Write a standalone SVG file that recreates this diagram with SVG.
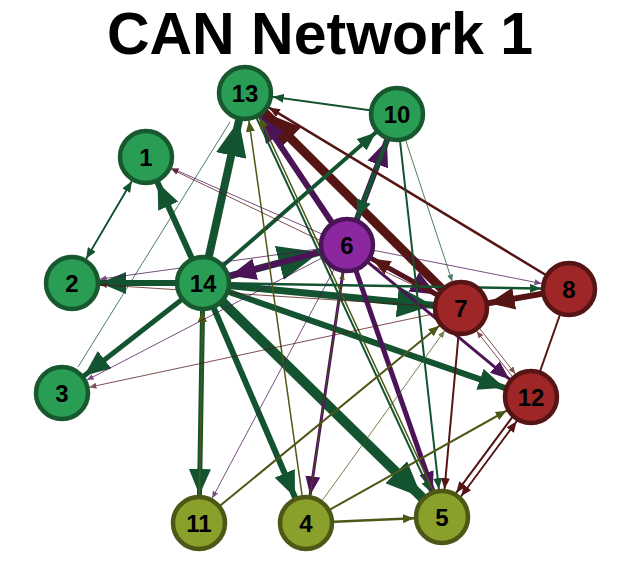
<svg xmlns="http://www.w3.org/2000/svg" width="636" height="582" viewBox="0 0 636 582">
<style>
.t{font-family:"Liberation Sans",Arial,sans-serif;font-weight:bold;fill:#000}
.title{font-size:59px;text-anchor:middle}
.lbl{font-size:24px;text-anchor:middle}
.n circle{stroke-width:4.5}
.gn circle{fill:#2a9d55;stroke:#17582f}
.pn circle{fill:#8b28a0;stroke:#4b1456}
.rn circle{fill:#9e2626;stroke:#561515}
.on circle{fill:#89a02a;stroke:#4e5816}
#edges line{fill:none}
.g{stroke:#135330}
.p{stroke:#4b1456}
.r{stroke:#561515}
.o{stroke:#4e5816}
.thin{stroke-width:1;opacity:.75}
.mg{fill:#135330}.mp{fill:#4b1456}.mr{fill:#561515}.mo{fill:#4e5816}
</style>
<defs>
<marker id="g-xs" markerUnits="userSpaceOnUse" markerWidth="7" markerHeight="6" refX="35" refY="3" orient="auto"><path class="mg" d="M0,0L7,3L0,6z"/></marker>
<marker id="g-s" markerUnits="userSpaceOnUse" markerWidth="11" markerHeight="9" refX="39" refY="4.5" orient="auto"><path class="mg" d="M0,0L11,4.5L0,9z"/></marker>
<marker id="g-m" markerUnits="userSpaceOnUse" markerWidth="19" markerHeight="15" refX="47" refY="7.5" orient="auto"><path class="mg" d="M0,0L19,7.5L0,15z"/></marker>
<marker id="g-l" markerUnits="userSpaceOnUse" markerWidth="26" markerHeight="22" refX="54" refY="11" orient="auto"><path class="mg" d="M0,0L26,11L0,22z"/></marker>
<marker id="g-xl" markerUnits="userSpaceOnUse" markerWidth="36" markerHeight="31" refX="64" refY="15.5" orient="auto"><path class="mg" d="M0,0L36,15.5L0,31z"/></marker>
<marker id="g-xxl" markerUnits="userSpaceOnUse" markerWidth="42" markerHeight="35" refX="70" refY="17.5" orient="auto"><path class="mg" d="M0,0L42,17.5L0,35z"/></marker>
<marker id="p-xs" markerUnits="userSpaceOnUse" markerWidth="7" markerHeight="6" refX="35" refY="3" orient="auto"><path class="mp" d="M0,0L7,3L0,6z"/></marker>
<marker id="p-m" markerUnits="userSpaceOnUse" markerWidth="19" markerHeight="15" refX="47" refY="7.5" orient="auto"><path class="mp" d="M0,0L19,7.5L0,15z"/></marker>
<marker id="p-l" markerUnits="userSpaceOnUse" markerWidth="26" markerHeight="22" refX="54" refY="11" orient="auto"><path class="mp" d="M0,0L26,11L0,22z"/></marker>
<marker id="r-xs" markerUnits="userSpaceOnUse" markerWidth="7" markerHeight="6" refX="35" refY="3" orient="auto"><path class="mr" d="M0,0L7,3L0,6z"/></marker>
<marker id="r-s" markerUnits="userSpaceOnUse" markerWidth="11" markerHeight="9" refX="39" refY="4.5" orient="auto"><path class="mr" d="M0,0L11,4.5L0,9z"/></marker>
<marker id="r-m" markerUnits="userSpaceOnUse" markerWidth="19" markerHeight="15" refX="47" refY="7.5" orient="auto"><path class="mr" d="M0,0L19,7.5L0,15z"/></marker>
<marker id="r-l" markerUnits="userSpaceOnUse" markerWidth="26" markerHeight="22" refX="54" refY="11" orient="auto"><path class="mr" d="M0,0L26,11L0,22z"/></marker>
<marker id="r-xl" markerUnits="userSpaceOnUse" markerWidth="36" markerHeight="31" refX="64" refY="15.5" orient="auto"><path class="mr" d="M0,0L36,15.5L0,31z"/></marker>
<marker id="o-xs" markerUnits="userSpaceOnUse" markerWidth="7" markerHeight="6" refX="35" refY="3" orient="auto"><path class="mo" d="M0,0L7,3L0,6z"/></marker>
<marker id="o-s" markerUnits="userSpaceOnUse" markerWidth="11" markerHeight="9" refX="39" refY="4.5" orient="auto"><path class="mo" d="M0,0L11,4.5L0,9z"/></marker>
</defs>

<text class="t title" x="320" y="54">CAN Network 1</text>

<g id="edges">
<line class="g" x1="203" y1="283" x2="442" y2="517" stroke-width="10" marker-end="url(#g-xl)"/>
<line class="r" x1="461" y1="308" x2="245" y2="93" stroke-width="9" marker-end="url(#r-xl)"/>
<line class="g" x1="203" y1="283" x2="245" y2="93" stroke-width="8" marker-end="url(#g-xl)"/>
<line class="g" x1="203" y1="283" x2="347" y2="245" stroke-width="7" marker-end="url(#g-xxl)"/>
<line class="g" x1="203" y1="283" x2="461" y2="308" stroke-width="7" marker-end="url(#g-xl)"/>
<line class="g" x1="203" y1="283" x2="146" y2="157" stroke-width="6" marker-end="url(#g-l)"/>
<line class="g" x1="203" y1="283" x2="72" y2="283" stroke-width="6" marker-end="url(#g-l)"/>
<line class="g" x1="203" y1="283" x2="306" y2="523" stroke-width="6" marker-end="url(#g-l)"/>
<line class="g" x1="203" y1="283" x2="531" y2="397" stroke-width="6" marker-end="url(#g-l)"/>
<line class="g" x1="203" y1="283" x2="62" y2="393" stroke-width="5" marker-end="url(#g-l)"/>
<line class="g" x1="203" y1="283" x2="199" y2="523" stroke-width="5" marker-end="url(#g-l)"/>
<line class="r" x1="569" y1="289" x2="461" y2="308" stroke-width="6" marker-end="url(#r-l)"/>
<line class="p" x1="347" y1="245" x2="203" y2="283" stroke-width="6" marker-end="url(#p-l)"/>
<line class="p" x1="347" y1="245" x2="245" y2="93" stroke-width="6" marker-end="url(#p-l)"/>
<line class="p" x1="347" y1="245" x2="397" y2="114" stroke-width="6" marker-end="url(#p-l)"/>
<line class="p" x1="347" y1="245" x2="461" y2="308" stroke-width="5" marker-end="url(#p-l)"/>
<line class="p" x1="347" y1="245" x2="442" y2="517" stroke-width="5" marker-end="url(#p-m)"/>
<line class="g" x1="203" y1="283" x2="397" y2="114" stroke-width="4" marker-end="url(#g-m)"/>
<line class="g" x1="397" y1="114" x2="347" y2="245" stroke-width="4" marker-end="url(#g-m)"/>
<line class="r" x1="461" y1="308" x2="347" y2="245" stroke-width="4" marker-end="url(#r-m)"/>
<line class="p" x1="347" y1="245" x2="306" y2="523" stroke-width="3" marker-end="url(#p-m)"/>
<line class="p" x1="347" y1="245" x2="531" y2="397" stroke-width="3" marker-end="url(#p-m)"/>
<line class="g" x1="203" y1="283" x2="569" y2="289" stroke-width="2.5" marker-end="url(#g-s)"/>
<line class="r" x1="569" y1="289" x2="245" y2="93" stroke-width="2.5" marker-end="url(#r-s)"/>
<line class="g" x1="397" y1="114" x2="245" y2="93" stroke-width="2" marker-end="url(#g-s)"/>
<line class="g" x1="397" y1="114" x2="442" y2="517" stroke-width="2" marker-end="url(#g-s)"/>
<line class="g" x1="245" y1="93" x2="442" y2="517" stroke-width="2" marker-end="url(#g-s)"/>
<line class="r" x1="461" y1="308" x2="442" y2="517" stroke-width="2" marker-end="url(#r-s)"/>
<line class="r" x1="528.6" y1="395.2" x2="439.6" y2="515.2" stroke-width="2" marker-end="url(#r-s)"/>
<line class="r" x1="533.4" y1="398.8" x2="444.4" y2="518.8" stroke-width="1.5" marker-end="url(#r-s)"/>
<line class="r" x1="444.4" y1="518.8" x2="533.4" y2="398.8" stroke-width="1.5" marker-end="url(#r-s)"/>
<line class="r" x1="569" y1="289" x2="531" y2="397" stroke-width="2"/>
<line class="o" x1="306" y1="523" x2="442" y2="517" stroke-width="2.5" marker-end="url(#o-s)"/>
<line class="o" x1="306" y1="523" x2="531" y2="397" stroke-width="2" marker-end="url(#o-s)"/>
<line class="o" x1="199" y1="523" x2="461" y2="308" stroke-width="2" marker-end="url(#o-s)"/>
<line class="o" x1="306" y1="523" x2="245" y2="93" stroke-width="1.5" marker-end="url(#o-s)"/>
<line class="o" x1="444.7" y1="515.7" x2="247.7" y2="91.7" stroke-width="1.5" marker-end="url(#o-s)"/>
<line class="o" x1="199" y1="523" x2="203" y2="283" stroke-width="1.5" marker-end="url(#o-s)"/>
<line class="g" x1="146" y1="157" x2="72" y2="283" stroke-width="1.5" marker-end="url(#g-s)"/>
<line class="g" x1="72" y1="283" x2="146" y2="157" stroke-width="1.5" marker-end="url(#g-s)"/>
<line class="g thin" x1="397" y1="114" x2="461" y2="308" marker-end="url(#g-xs)"/>
<line class="g thin" x1="230" y1="122" x2="78" y2="367" opacity=".55"/>
<line class="p thin" x1="347" y1="245" x2="569" y2="289" marker-end="url(#p-xs)"/>
<line class="p thin" x1="347" y1="245" x2="72" y2="283" marker-end="url(#p-xs)"/>
<line class="p thin" x1="347" y1="245" x2="62" y2="393" marker-end="url(#p-xs)"/>
<line class="p thin" x1="347" y1="245" x2="199" y2="523" marker-end="url(#p-xs)"/>
<line class="p thin" x1="347" y1="245" x2="146" y2="157" marker-end="url(#p-xs)"/>
<line class="r thin" x1="462.6" y1="306.8" x2="532.6" y2="395.8" marker-end="url(#r-xs)"/>
<line class="r thin" x1="529.4" y1="398.2" x2="459.4" y2="309.2" marker-end="url(#r-xs)"/>
<line class="r thin" x1="461" y1="308" x2="62" y2="393" marker-end="url(#r-xs)"/>
<line class="r thin" x1="461" y1="308" x2="72" y2="283" marker-end="url(#r-xs)" opacity=".5"/>
<line class="r thin" x1="461" y1="308" x2="146" y2="157" marker-end="url(#r-xs)"/>
<line class="o thin" x1="306" y1="523" x2="461" y2="308" marker-end="url(#o-xs)"/>
<line class="o thin" x1="306" y1="523" x2="347" y2="245" marker-end="url(#o-xs)"/>
</g>

<g id="n1" class="n gn"><circle cx="146" cy="157" r="26"/><text class="t lbl" x="146" y="165.6">1</text></g>
<g id="n2" class="n gn"><circle cx="72" cy="283" r="26"/><text class="t lbl" x="72" y="291.6">2</text></g>
<g id="n3" class="n gn"><circle cx="62" cy="393" r="26"/><text class="t lbl" x="62" y="401.6">3</text></g>
<g id="n13" class="n gn"><circle cx="245" cy="93" r="26"/><text class="t lbl" x="245" y="101.6">13</text></g>
<g id="n10" class="n gn"><circle cx="397" cy="114" r="26"/><text class="t lbl" x="397" y="122.6">10</text></g>
<g id="n14" class="n gn"><circle cx="203" cy="283" r="26"/><text class="t lbl" x="203" y="291.6">14</text></g>
<g id="n6" class="n pn"><circle cx="347" cy="245" r="26"/><text class="t lbl" x="347" y="253.6">6</text></g>
<g id="n7" class="n rn"><circle cx="461" cy="308" r="26"/><text class="t lbl" x="461" y="316.6">7</text></g>
<g id="n8" class="n rn"><circle cx="569" cy="289" r="26"/><text class="t lbl" x="569" y="297.6">8</text></g>
<g id="n12" class="n rn"><circle cx="531" cy="397" r="26"/><text class="t lbl" x="531" y="405.6">12</text></g>
<g id="n11" class="n on"><circle cx="199" cy="523" r="26"/><text class="t lbl" x="199" y="531.6">11</text></g>
<g id="n4" class="n on"><circle cx="306" cy="523" r="26"/><text class="t lbl" x="306" y="531.6">4</text></g>
<g id="n5" class="n on"><circle cx="442" cy="517" r="26"/><text class="t lbl" x="442" y="525.6">5</text></g>
</svg>
